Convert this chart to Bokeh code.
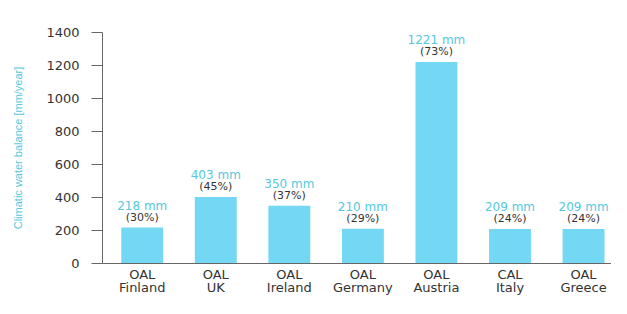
from bokeh.plotting import figure
from bokeh.models import ColumnDataSource, Range1d, FixedTicker
from bokeh.core.properties import value
from bokeh.embed import file_html
from bokeh.resources import INLINE

sites = ["OAL\nFinland", "OAL\nUK", "OAL\nIreland", "OAL\nGermany", "OAL\nAustria", "CAL\nItaly", "OAL\nGreece"]
balance = [218, 403, 350, 210, 1221, 209, 209]
percent = [30, 45, 37, 29, 73, 24, 24]
y_ticks = [0, 200, 400, 600, 800, 1000, 1200, 1400]

xs = list(range(len(sites)))
src = ColumnDataSource(dict(
    x=xs, top=balance,
    mm=[f"{v} mm" for v in balance],
    pct=[f"({p}%)" for p in percent],
))

FONT = "DejaVu Sans"
CYAN = "#55c8e0"
BAR = "#74d8f4"

p = figure(width=611, height=298, output_backend="svg", toolbar_location=None,
           x_range=Range1d(-0.54, 6.38), y_range=Range1d(0, 1400),
           min_border_left=102, min_border_right=0, min_border_top=32, min_border_bottom=33)
p.outline_line_color = None
p.xgrid.grid_line_color = None
p.ygrid.grid_line_color = None

p.vbar(x="x", top="top", width=0.57, source=src, fill_color=BAR, line_color=None)

p.text(x="x", y="top", text="pct", source=src, y_offset=-4,
       text_align="center", text_baseline="bottom", text_font=value(FONT),
       text_font_size="11px", text_color="#333333")
p.text(x="x", y="top", text="mm", source=src, y_offset=-15,
       text_align="center", text_baseline="bottom", text_font=value(FONT),
       text_font_size="12px", text_color=CYAN)

p.yaxis.ticker = FixedTicker(ticks=y_ticks)
p.yaxis.minor_tick_line_color = None
p.yaxis.major_tick_out = 11
p.yaxis.major_tick_in = 0
p.yaxis.axis_line_color = "#666666"
p.yaxis.major_tick_line_color = "#666666"
p.yaxis.major_label_text_font = FONT
p.yaxis.major_label_text_font_size = "13px"
p.yaxis.major_label_text_color = "#333333"
p.yaxis.major_label_standoff = 12
p.yaxis.axis_label = "Climatic water balance [mm/year]"
p.yaxis.axis_label_text_font = "Liberation Sans"
p.yaxis.axis_label_text_font_style = "normal"
p.yaxis.axis_label_text_font_size = "11px"
p.yaxis.axis_label_text_color = CYAN
p.yaxis.axis_label_standoff = 19

p.xaxis.ticker = FixedTicker(ticks=xs)
p.xaxis.major_label_overrides = {i: s for i, s in zip(xs, sites)}
p.xaxis.major_tick_line_color = None
p.xaxis.minor_tick_line_color = None
p.xaxis.major_tick_out = 0
p.xaxis.major_tick_in = 0
p.xaxis.axis_line_color = "#666666"
p.xaxis.major_label_text_font = FONT
p.xaxis.major_label_text_font_size = "13px"
p.xaxis.major_label_text_color = "#333333"
p.xaxis.major_label_text_line_height = 0.9
p.xaxis.major_label_standoff = 3

open("out.html", "w").write(file_html(p, INLINE))
